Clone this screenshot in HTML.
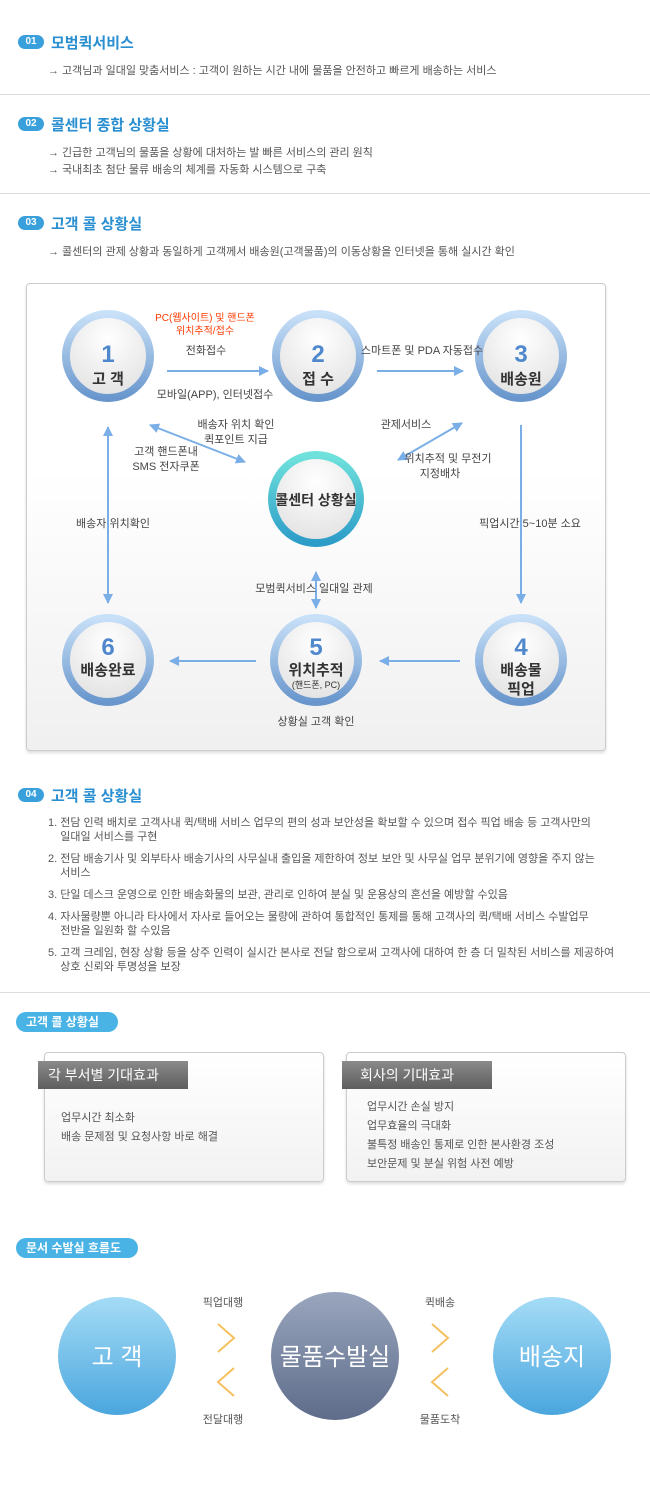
<!DOCTYPE html>
<html><head><meta charset="utf-8"><style>
*{margin:0;padding:0;box-sizing:border-box}
body{width:650px;height:1487px;background:#fff;font-family:"Liberation Sans","Noto Sans CJK KR",sans-serif;color:#555;position:relative;overflow:hidden}
.a{position:absolute;white-space:nowrap}
.num{position:absolute;width:26px;height:14px;border-radius:7px;background:#3aa0dc;color:#fff;font-size:10px;font-weight:bold;text-align:center;line-height:14px}
.tt{position:absolute;color:#2a8fd0;font-size:15px;font-weight:bold}
.bl{position:absolute;font-size:11px;color:#555}
.hr{position:absolute;left:0;width:650px;height:1px;background:#ddd}
.pill{position:absolute;height:20px;border-radius:10px;background:#4ab3e6;color:#fff;font-size:12px;font-weight:bold;line-height:20px;padding-left:10px}
.box{position:absolute;border:1px solid #ccc;border-radius:4px;background:linear-gradient(#fff,#f2f2f2);box-shadow:0 2px 3px #ddd}
.hd{position:absolute;height:28px;background:linear-gradient(#8a8a8a,#5e5e5e);color:#fff;font-size:14px;line-height:28px;padding-left:10px}
.li{position:absolute;font-size:11px;color:#555;line-height:14px;white-space:normal}
</style></head><body>
<div class="num" style="left:18px;top:35px">01</div><div class="tt" style="left:51px;top:32px">모범퀵서비스</div>
<div class="bl" style="left:48px;top:62px">→ 고객님과 일대일 맞춤서비스 : 고객이 원하는 시간 내에 물품을 안전하고 빠르게 배송하는 서비스</div>
<div class="hr" style="top:94px"></div>
<div class="num" style="left:18px;top:117px">02</div><div class="tt" style="left:51px;top:114px">콜센터 종합 상황실</div>
<div class="bl" style="left:48px;top:144px">→ 긴급한 고객님의 물품을 상황에 대처하는 발 빠른 서비스의 관리 원칙</div>
<div class="bl" style="left:48px;top:161px">→ 국내최초 첨단 물류 배송의 체계를 자동화 시스템으로 구축</div>
<div class="hr" style="top:193px"></div>
<div class="num" style="left:18px;top:216px">03</div><div class="tt" style="left:51px;top:213px">고객 콜 상황실</div>
<div class="bl" style="left:48px;top:243px">→ 콜센터의 관제 상황과 동일하게 고객께서 배송원(고객물품)의 이동상황을 인터넷을 통해 실시간 확인</div>

<div class="box" style="left:26px;top:283px;width:580px;height:468px;background:linear-gradient(#fff 40%,#f0f0f0)"></div>
<svg class="a" style="left:0;top:0" width="650" height="760">
<defs>
<radialGradient id="inb" cx="50%" cy="30%" r="70%"><stop offset="0" stop-color="#fff"/><stop offset="1" stop-color="#e2e2e2"/></radialGradient>
<linearGradient id="rb" x1="0" y1="0" x2="0" y2="1"><stop offset="0" stop-color="#c8e0f8"/><stop offset="1" stop-color="#6896cc"/></linearGradient>
<linearGradient id="rt" x1="0" y1="0" x2="0" y2="1"><stop offset="0" stop-color="#70e2dc"/><stop offset="1" stop-color="#2c9cc8"/></linearGradient>
<marker id="ar" markerUnits="userSpaceOnUse" markerWidth="10" markerHeight="10" refX="9" refY="5" orient="auto-start-reverse"><path d="M0,0 L10,5 L0,10z" fill="#7aaee6"/></marker>
</defs>
<g fill="url(#inb)" stroke="url(#rb)" stroke-width="8">
<circle cx="108" cy="356" r="42"/><circle cx="318" cy="356" r="42"/><circle cx="521" cy="356" r="42"/>
<circle cx="108" cy="660" r="42"/><circle cx="316" cy="660" r="42"/><circle cx="521" cy="660" r="42"/>
<circle cx="316" cy="499" r="44" stroke="url(#rt)"/>
</g>
<g stroke="#7aaee6" stroke-width="2" fill="none">
<line x1="167" y1="371" x2="268" y2="371" marker-end="url(#ar)"/>
<line x1="377" y1="371" x2="463" y2="371" marker-end="url(#ar)"/>
<line x1="521" y1="425" x2="521" y2="603" marker-end="url(#ar)"/>
<line x1="460" y1="661" x2="380" y2="661" marker-end="url(#ar)"/>
<line x1="256" y1="661" x2="170" y2="661" marker-end="url(#ar)"/>
<line x1="108" y1="427" x2="108" y2="603" marker-start="url(#ar)" marker-end="url(#ar)"/>
<line x1="150" y1="425" x2="245" y2="462" marker-start="url(#ar)" marker-end="url(#ar)"/>
<line x1="462" y1="423" x2="398" y2="460" marker-start="url(#ar)" marker-end="url(#ar)"/>
<line x1="316" y1="572" x2="316" y2="608" marker-start="url(#ar)" marker-end="url(#ar)"/>
</g>
<g font-family="Liberation Sans,Noto Sans CJK KR,sans-serif" text-anchor="middle">
<g fill="#4f88cc" font-size="24" font-weight="bold">
<text x="108" y="362">1</text><text x="318" y="362">2</text><text x="521" y="362">3</text>
<text x="108" y="655">6</text><text x="316" y="655">5</text><text x="521" y="655">4</text>
</g>
<g fill="#333" font-size="15" font-weight="bold">
<text x="108" y="384">고 객</text><text x="318" y="384">접 수</text><text x="521" y="384">배송원</text>
<text x="108" y="675">배송완료</text><text x="316" y="675">위치추적</text><text x="521" y="675">배송물</text><text x="521" y="694">픽업</text>
<text x="316" y="505" font-size="14">콜센터 상황실</text>
</g>
<text x="316" y="688" font-size="9" fill="#333">(핸드폰, PC)</text>
<g fill="#ff3b00" font-size="10"><text x="205" y="321">PC(웹사이트) 및 핸드폰</text><text x="205" y="334">위치추적/접수</text></g>
<g fill="#444" font-size="11">
<text x="206" y="354">전화접수</text>
<text x="215" y="398">모바일(APP), 인터넷접수</text>
<text x="422" y="354">스마트폰 및 PDA 자동접수</text>
<text x="236" y="428">배송자 위치 확인</text><text x="236" y="443">퀵포인트 지급</text>
<text x="406" y="428">관제서비스</text>
<text x="166" y="455">고객 핸드폰내</text><text x="166" y="470">SMS 전자쿠폰</text>
<text x="448" y="462">위치추적 및 무전기</text><text x="440" y="477">지정배차</text>
<text x="113" y="527">배송자   위치확인</text>
<text x="530" y="527">픽업시간   5~10분 소요</text>
<text x="314" y="592">모범퀵서비스   일대일 관제</text>
<text x="316" y="725">상황실 고객 확인</text>
</g>
</g>
</svg>

<div class="num" style="left:18px;top:788px">04</div><div class="tt" style="left:51px;top:785px">고객 콜 상황실</div>
<div class="li" style="left:48px;top:816px;width:570px">1. 전담 인력 배치로 고객사내 퀵/택배 서비스 업무의 편의 성과 보안성을 확보할 수 있으며 접수 픽업 배송 등 고객사만의<br>&nbsp;&nbsp;&nbsp;&nbsp;일대일 서비스를 구현</div>
<div class="li" style="left:48px;top:852px;width:570px">2. 전담 배송기사 및 외부타사 배송기사의 사무실내 출입을 제한하여 정보 보안 및 사무실 업무 분위기에 영향을 주지 않는<br>&nbsp;&nbsp;&nbsp;&nbsp;서비스</div>
<div class="li" style="left:48px;top:888px">3. 단일 데스크 운영으로 인한 배송화물의 보관, 관리로 인하여 분실 및 운용상의 혼선을 예방할 수있음</div>
<div class="li" style="left:48px;top:910px">4. 자사물량뿐 아니라 타사에서 자사로 들어오는 물량에 관하여 통합적인 통제를 통해 고객사의 퀵/택배 서비스 수발업무<br>&nbsp;&nbsp;&nbsp;&nbsp;전반을 일원화 할 수있음</div>
<div class="li" style="left:48px;top:946px">5. 고객 크레임, 현장 상황 등을 상주 인력이 실시간 본사로 전달 함으로써 고객사에 대하여 한 층 더 밀착된 서비스를 제공하여<br>&nbsp;&nbsp;&nbsp;&nbsp;상호 신뢰와 투명성을 보장</div>
<div class="hr" style="top:992px"></div>

<div class="pill" style="left:16px;top:1012px;width:102px">고객 콜 상황실</div>
<div class="box" style="left:44px;top:1052px;width:280px;height:130px"></div>
<div class="hd" style="left:38px;top:1061px;width:150px">각 부서별 기대효과</div>
<div class="li" style="left:61px;top:1109px;line-height:19px">업무시간 최소화<br>배송 문제점 및 요청사항 바로 해결</div>
<div class="box" style="left:346px;top:1052px;width:280px;height:130px"></div>
<div class="hd" style="left:342px;top:1061px;width:150px;padding-left:18px">회사의 기대효과</div>
<div class="li" style="left:367px;top:1098px;line-height:19px">업무시간 손실 방지<br>업무효율의 극대화<br>불특정 배송인 통제로 인한 본사환경 조성<br>보안문제 및 분실 위험 사전 예방</div>

<div class="pill" style="left:16px;top:1238px;width:122px">문서 수발실 흐름도</div>
<svg class="a" style="left:0;top:1280px" width="650" height="160">
<defs>
<linearGradient id="cb" x1="0" y1="0" x2="0" y2="1"><stop offset="0" stop-color="#a5dcf6"/><stop offset="1" stop-color="#4aa6de"/></linearGradient>
<linearGradient id="cg" x1="0" y1="0" x2="0" y2="1"><stop offset="0" stop-color="#9aa6be"/><stop offset="1" stop-color="#5e6c8a"/></linearGradient>
</defs>
<circle cx="117" cy="76" r="59" fill="url(#cb)"/><circle cx="335" cy="76" r="64" fill="url(#cg)"/><circle cx="552" cy="76" r="59" fill="url(#cb)"/>
<g stroke="#f5c060" stroke-width="2" fill="none">
<polyline points="218,44 234,58 218,72"/><polyline points="234,88 218,102 234,116"/>
<polyline points="432,44 448,58 432,72"/><polyline points="448,88 432,102 448,116"/>
</g>
<g font-family="Liberation Sans,Noto Sans CJK KR,sans-serif" text-anchor="middle">
<text x="117" y="85" fill="#fff" font-size="24">고 객</text>
<text x="335" y="85" fill="#fff" font-size="24">물품수발실</text>
<text x="552" y="85" fill="#fff" font-size="24">배송지</text>
<g fill="#555" font-size="11"><text x="223" y="26">픽업대행</text><text x="223" y="143">전달대행</text><text x="440" y="26">퀵배송</text><text x="440" y="143">물품도착</text></g>
</g>
</svg>
</body></html>
